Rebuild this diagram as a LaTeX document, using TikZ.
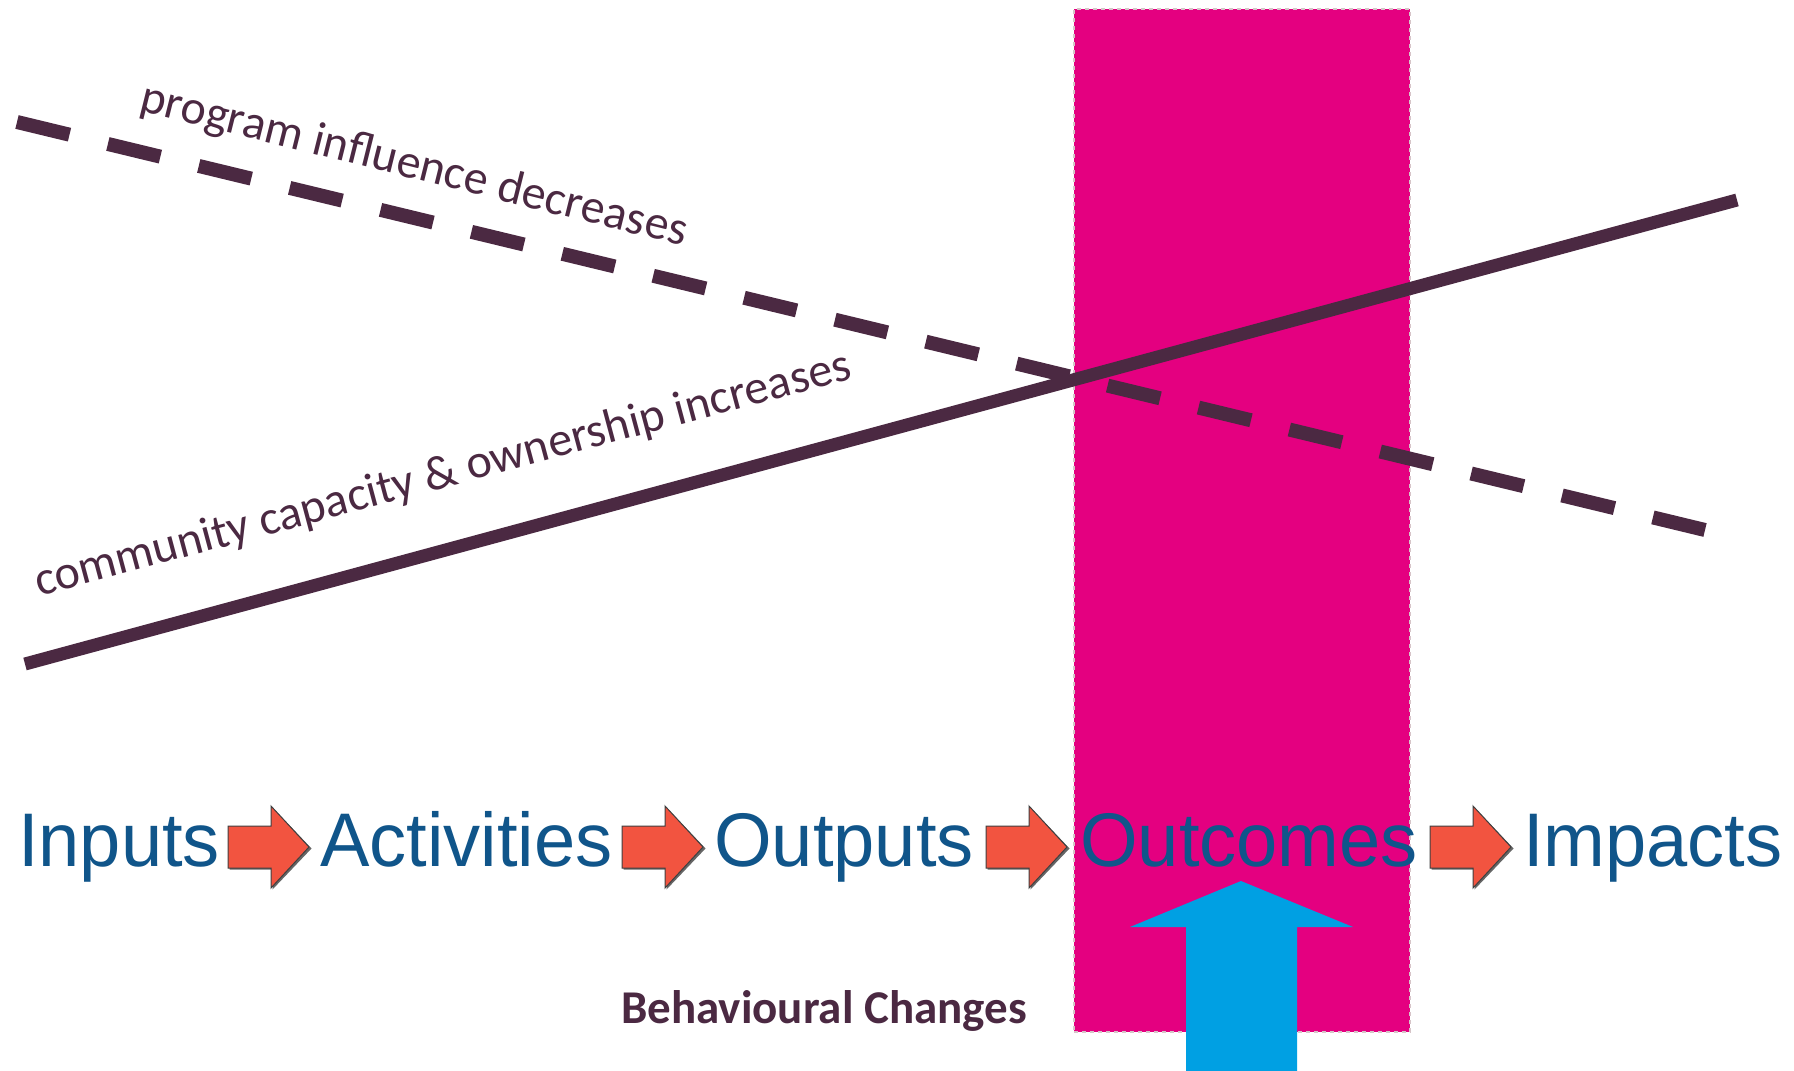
\documentclass[tikz,border=0pt]{standalone}
\usepackage{fontspec}
\setmainfont{Liberation Sans}
\newfontfamily\calfont{Carlito}
\definecolor{plum}{RGB}{75,41,66}
\definecolor{magentabar}{RGB}{228,0,128}
\definecolor{barborder}{RGB}{214,196,200}
\definecolor{bluearrow}{RGB}{0,160,227}
\definecolor{stepblue}{RGB}{16,85,138}
\definecolor{redarrow}{RGB}{242,84,64}
\tikzset{
  steptext/.style={anchor=base west, inner sep=0pt, text=stepblue, xscale=0.975,
    font=\fontsize{76}{80}\selectfont},
  slopelabel/.style={inner sep=0pt, text=plum,
    font=\calfont\fontsize{48}{52}\selectfont},
  bar/.style={fill=magentabar, draw=barborder, line width=2pt,
    dash pattern=on 4pt off 4pt, minimum width=336pt, minimum height=1023pt,
    inner sep=0pt},
  blockarrow/.pic={
    \fill[black!60] (1.5,-19.5) -- (44.5,-19.5) -- (44.5,-39.5) -- (83.5,1.5)
      -- (44.5,42.5) -- (44.5,22.5) -- (1.5,22.5) -- cycle;
    \filldraw[fill=redarrow, draw=black!75, line width=1pt]
      (0,-21) -- (43,-21) -- (43,-41) -- (81,0) -- (43,41) -- (43,21)
      -- (0,21) -- cycle;
  }
}
\begin{document}
\begin{tikzpicture}[x=1pt,y=-1pt]
\useasboundingbox (0,0) rectangle (1794,1071);
\fill[white] (0,0) rectangle (1794,1071);

% magenta outcome bar
\node[bar] (outbar) at (1242,520.5) {};

% influence lines
\coordinate (d1) at (17,122);
\coordinate (d2) at (1705,530);
\draw[plum, line width=14pt, dash pattern=on 54pt off 39.5pt] (d1) -- (d2);
\coordinate (s1) at (25,664);
\coordinate (s2) at (1737,200);
\draw[plum, line width=13pt] (s1) -- (s2);

\node[slopelabel, rotate=-14] (prog) at (414,166) {program influence decreases};
\node[slopelabel, rotate=15] (comm) at (443,475) {community capacity \& ownership increases};

% chain of steps
\node[steptext] (inputs) at (18,866) {Inputs};
\node[steptext] (activities) at (320,866) {Activities};
\node[steptext] (outputs) at (714,866) {Outputs};
\node[steptext] (outcomes) at (1080,866) {Outcomes};
\node[steptext] (impacts) at (1523,866) {Impacts};

\pic (a1) at (228,847) {blockarrow};
\pic (a2) at (622,847) {blockarrow};
\pic (a3) at (986,847) {blockarrow};
\pic (a4) at (1430,847) {blockarrow};

% blue arrow
\coordinate (btip) at (1241,881);
\fill[bluearrow] (btip) -- (1353,927) -- (1297,927) -- (1297,1071)
  -- (1186,1071) -- (1186,927) -- (1130,927) -- cycle;

\node[anchor=base, inner sep=0pt, text=plum,
  font=\calfont\bfseries\fontsize{47}{50}\selectfont] (behav) at (824,1023)
  {Behavioural Changes};
\end{tikzpicture}
\end{document}
